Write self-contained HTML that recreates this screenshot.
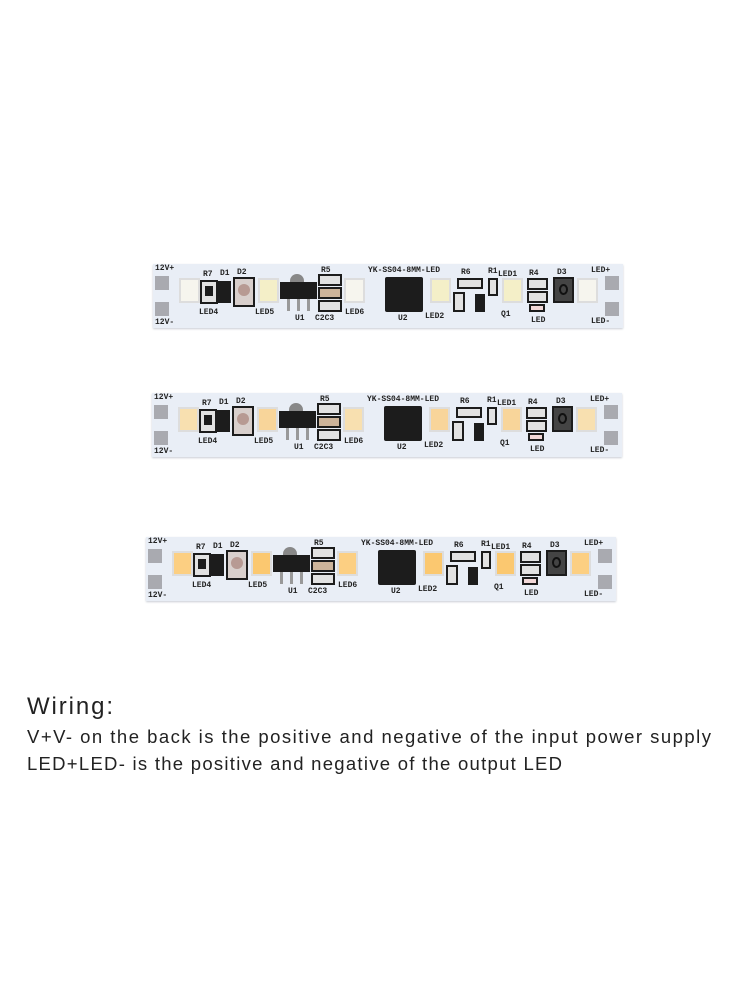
<!DOCTYPE html>
<html><head><meta charset="utf-8"><style>
body{margin:0;width:750px;height:1000px;background:#fff;position:relative;overflow:hidden;font-family:"Liberation Sans",sans-serif}
.s{position:absolute;width:470px;height:64px;background:#e9eef6;box-shadow:0 1px 2px #c8ccd4}
.s div{position:absolute}
.s span{position:absolute;font:bold 8px "Liberation Mono",monospace;color:#222;white-space:nowrap}
.led{width:21px;height:25px;top:14px;background:#f4f4ee;border:2px solid #ddd;box-sizing:border-box}
.blk{background:#1c1c1c}
.box{border:2px solid #1c1c1c;box-sizing:border-box;background:#e2e2e2}
.pad{background:#a9aab0;width:14px;height:14px}
</style></head><body>

<svg width="750" height="1000" style="position:absolute;left:0;top:0">
<text x="27" y="714" font-family="Liberation Sans,sans-serif" font-size="24" fill="#222" textLength="86">Wiring:</text>
<text x="27" y="743" font-family="Liberation Sans,sans-serif" font-size="18.5" fill="#222" textLength="684" lengthAdjust="spacing">V+V- on the back is the positive and negative of the input power supply</text>
<text x="27" y="770" font-family="Liberation Sans,sans-serif" font-size="18.5" fill="#222" textLength="535" lengthAdjust="spacing">LED+LED- is the positive and negative of the output LED</text>
</svg>

<script>
function strip(x,y,c1,c2){
 var h='<div class="s" style="left:'+x+'px;top:'+y+'px">'+
 '<div class="pad" style="left:2px;top:12px"></div><div class="pad" style="left:2px;top:38px"></div>'+
 '<div class="pad" style="left:452px;top:12px"></div><div class="pad" style="left:452px;top:38px"></div>'+
 '<span style="left:2px;top:0">12V+</span><span style="left:2px;top:54px">12V-</span>'+
 '<span style="left:438px;top:2px">LED+</span><span style="left:438px;top:53px">LED-</span>'+
 '<div class="led" style="left:26px;background:'+c1+'"></div>'+
 '<div class="box" style="left:47px;top:16px;width:18px;height:24px"></div><div class="blk" style="left:52px;top:22px;width:8px;height:10px"></div>'+
 '<div class="blk" style="left:65px;top:17px;width:13px;height:22px"></div>'+
 '<div class="box" style="left:80px;top:13px;width:22px;height:30px;background:#d8cfcc"></div><div style="left:85px;top:20px;width:12px;height:12px;border-radius:50%;background:#b79a93"></div>'+
 '<div class="led" style="left:105px;background:'+c2+'"></div>'+
 '<div style="left:137px;top:10px;width:14px;height:12px;border-radius:7px 7px 0 0;background:#888"></div>'+
 '<div class="blk" style="left:127px;top:18px;width:37px;height:17px"></div>'+
 '<div style="left:134px;top:35px;width:3px;height:12px;background:#999"></div><div style="left:144px;top:35px;width:3px;height:12px;background:#999"></div><div style="left:154px;top:35px;width:3px;height:12px;background:#999"></div>'+
 '<div class="box" style="left:165px;top:10px;width:24px;height:12px"></div><div class="box" style="left:165px;top:23px;width:24px;height:12px;background:#cdb49a"></div><div class="box" style="left:165px;top:36px;width:24px;height:12px"></div>'+
 '<div class="led" style="left:191px;background:'+c1+'"></div>'+
 '<div class="blk" style="left:232px;top:13px;width:38px;height:35px;border-radius:2px"></div>'+
 '<div class="led" style="left:277px;background:'+c2+'"></div>'+
 '<div class="box" style="left:304px;top:14px;width:26px;height:11px"></div>'+
 '<div class="box" style="left:300px;top:28px;width:12px;height:20px"></div>'+
 '<div class="blk" style="left:322px;top:30px;width:10px;height:18px"></div>'+
 '<div class="box" style="left:335px;top:14px;width:10px;height:18px"></div>'+
 '<div class="led" style="left:349px;background:'+c2+'"></div>'+
 '<div class="box" style="left:374px;top:14px;width:21px;height:12px"></div><div class="box" style="left:374px;top:27px;width:21px;height:12px"></div><div class="box" style="left:376px;top:40px;width:16px;height:8px;background:#f2d8d8"></div>'+
 '<div class="box" style="left:400px;top:13px;width:21px;height:26px;background:#444"></div><div style="left:406px;top:20px;width:9px;height:11px;border-radius:50%;border:2px solid #111;box-sizing:border-box"></div>'+
 '<div class="led" style="left:424px;background:'+c1+'"></div>'+
 '<span style="left:50px;top:6px">R7</span><span style="left:67px;top:5px">D1</span><span style="left:84px;top:4px">D2</span>'+
 '<span style="left:46px;top:44px">LED4</span><span style="left:102px;top:44px">LED5</span><span style="left:142px;top:50px">U1</span>'+
 '<span style="left:168px;top:2px">R5</span><span style="left:162px;top:50px">C2C3</span><span style="left:192px;top:44px">LED6</span>'+
 '<span style="left:215px;top:2px">YK-SS04-8MM-LED</span><span style="left:245px;top:50px">U2</span><span style="left:272px;top:48px">LED2</span>'+
 '<span style="left:308px;top:4px">R6</span><span style="left:335px;top:3px">R1</span><span style="left:345px;top:6px">LED1</span><span style="left:376px;top:5px">R4</span><span style="left:404px;top:4px">D3</span>'+
 '<span style="left:348px;top:46px">Q1</span><span style="left:378px;top:52px">LED</span>'+
 '</div>';
 document.body.insertAdjacentHTML('beforeend',h);
}
strip(153,264,'#f6f5ee','#f4efc8');
strip(152,393,'#f8e0b0','#f8d59a');
strip(146,537,'#fccf82','#fbc870');
</script>
</body></html>
